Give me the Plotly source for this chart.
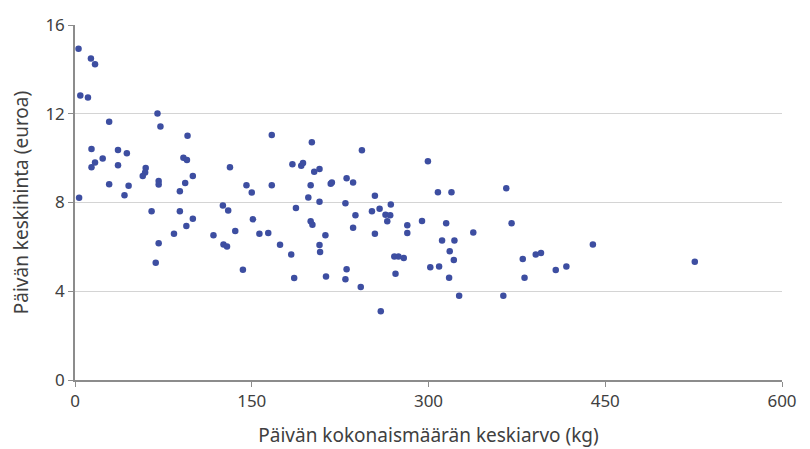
import plotly.graph_objects as go

# Päivän kokonaismäärän keskiarvo (kg)
maara_kg = [
    3, 13.5, 17, 4.5, 11, 70, 29, 72.5, 95.5, 14, 36.5, 44, 23.5, 92, 95,
    14, 17, 36.5, 60, 59.5, 57.5, 100, 131.5, 71, 71, 29, 45.5, 93.5, 89, 42,
    145.5, 150, 3.5, 65, 89, 100, 94.5, 84, 71, 68.5, 125.5, 130, 151, 136,
    117.5, 126, 129, 142.5, 156.5, 167, 201, 243.5, 299.5, 184.5, 192, 193.5,
    203, 207.5, 167, 200, 217, 218, 230.5, 236, 308, 198, 207.5, 229.5, 254.5,
    187.5, 252, 258.5, 268, 263.5, 267.5, 265, 238, 200, 201.5, 294.5, 282,
    282, 236, 254.5, 164, 212.5, 174, 207.5, 208, 183.5, 271, 274.5, 279,
    301.5, 309, 186, 213, 230.5, 229.5, 272, 242.5, 259.5, 319.5, 366, 315,
    370.5, 338, 311.5, 322, 318, 321.5, 317.5, 326, 363.5, 380, 381.5, 391,
    395.5, 408, 417, 439.5, 526,
]

# Päivän keskihinta (euroa)
hinta_eur = [
    14.93, 14.49, 14.23, 12.82, 12.73, 12.01, 11.64, 11.42, 11.01, 10.41, 10.37,
    10.22, 9.98, 10.02, 9.92, 9.59, 9.80, 9.68, 9.56, 9.35, 9.20, 9.20, 9.59,
    8.97, 8.81, 8.82, 8.75, 8.88, 8.51, 8.33, 8.78, 8.45, 8.21, 7.61, 7.61,
    7.27, 6.94, 6.59, 6.16, 5.29, 7.87, 7.64, 7.24, 6.71, 6.52, 6.11, 6.02,
    4.97, 6.59, 11.04, 10.72, 10.35, 9.86, 9.72, 9.66, 9.78, 9.39, 9.51, 8.78,
    8.78, 8.84, 8.90, 9.09, 8.90, 8.46, 8.22, 8.03, 7.97, 8.30, 7.75, 7.61,
    7.72, 7.91, 7.45, 7.43, 7.16, 7.43, 7.15, 7.00, 7.17, 6.97, 6.63, 6.86,
    6.59, 6.63, 6.52, 6.10, 6.08, 5.77, 5.66, 5.57, 5.57, 5.50, 5.08, 5.12,
    4.60, 4.67, 4.99, 4.54, 4.79, 4.19, 3.10, 8.46, 8.64, 7.06, 7.06, 6.65,
    6.29, 6.29, 5.80, 5.41, 4.61, 3.80, 3.80, 5.45, 4.61, 5.66, 5.72, 4.96,
    5.11, 6.11, 5.33,
]

x_ticks = [0, 150, 300, 450, 600]
y_ticks = [0, 4, 8, 12, 16]

fig = go.Figure()
fig.add_trace(go.Scatter(
    x=maara_kg,
    y=hinta_eur,
    mode="markers",
    marker=dict(color="#3d4ea1", size=6.5),
    showlegend=False,
))

fig.update_xaxes(
    range=[0, 600],
    tickvals=x_ticks,
    showgrid=False,
    zeroline=False,
    automargin=False,
    showline=True, linecolor="#8c8c8c", linewidth=1.5,
    ticks="outside", ticklen=5, tickcolor="#8c8c8c",
    tickfont=dict(size=17, color="#404040"),
    title=dict(text="Päivän kokonaismäärän keskiarvo (kg)",
               font=dict(size=19, color="#404040"), standoff=18),
)
fig.update_yaxes(
    range=[0, 16],
    tickvals=y_ticks,
    showgrid=True, gridcolor="#d4d4d4", gridwidth=1,
    zeroline=False,
    automargin=False,
    showline=True, linecolor="#8c8c8c", linewidth=1.5,
    ticks="outside", ticklen=5, tickcolor="#8c8c8c",
    tickfont=dict(size=17, color="#404040"),
    title=dict(text="Päivän keskihinta (euroa)",
               font=dict(size=19, color="#404040"), standoff=14),
)

# sivun body-marginaali (8 px) vähennetty koosta
fig.update_layout(
    width=802, height=441,
    margin=dict(l=67, r=28, t=17, b=69),
    plot_bgcolor="white",
    paper_bgcolor="white",
    font=dict(family="Noto Sans"),
)

fig.write_html("out.html")
